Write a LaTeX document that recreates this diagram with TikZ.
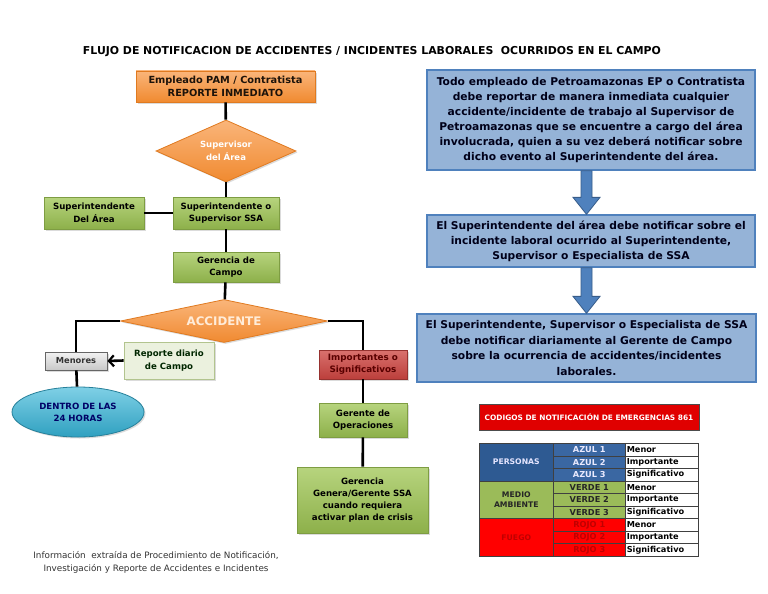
\documentclass[tikz,border=0pt]{standalone}
\usepackage{fontspec}
\setmainfont{DejaVu Sans}
\usetikzlibrary{shapes.geometric,arrows.meta,shadows,calc}
\definecolor{orL}{HTML}{FAB57A}
\definecolor{orD}{HTML}{F08A30}
\definecolor{orB}{HTML}{E07A20}
\definecolor{grL}{HTML}{B7D47E}
\definecolor{grD}{HTML}{8DB04A}
\definecolor{grB}{HTML}{7E9D42}
\definecolor{blF}{HTML}{95B3D7}
\definecolor{blB}{HTML}{4F81BD}
\definecolor{arF}{HTML}{4F81BD}
\definecolor{arB}{HTML}{385D8A}
\definecolor{rdL}{HTML}{D9716E}
\definecolor{rdD}{HTML}{BC3F3B}
\definecolor{cyL}{HTML}{7FD0E6}
\definecolor{cyD}{HTML}{2FA0C0}
\definecolor{gyL}{HTML}{F2F2F2}
\definecolor{gyD}{HTML}{C8C8C8}
\definecolor{lgF}{HTML}{EBF1DE}
\definecolor{tPer}{HTML}{2E5A92}
\definecolor{tPer2}{HTML}{3A67A2}
\definecolor{tMed}{HTML}{9BBB59}
\definecolor{tFue}{HTML}{FF0000}
\definecolor{tFueT}{HTML}{C00000}
\definecolor{tRed}{HTML}{E00000}
\begin{document}
\begin{tikzpicture}[x=1pt,y=-1pt,
  shad/.style={drop shadow={shadow xshift=1.5pt,shadow yshift=-1.5pt,opacity=0.28}},
  fbx/.style 2 args={font=\bfseries\fontsize{#1}{#2}\selectfont},
  box/.style={rectangle,align=center,inner sep=1pt,shad,line width=0.8pt},
  orbox/.style={box,top color=orL,bottom color=orD,draw=orB,text=black!85!brown},
  grbox/.style={box,top color=grL,bottom color=grD,draw=grB,text=black},
  dia/.style={diamond,inner sep=0pt,top color=orL,bottom color=orD,draw=orB,line width=0.8pt,shad,align=center,text=white},
  conn/.style={line width=2.6pt,black},
  bluebox/.style={rectangle,draw=blB,line width=1.3pt,fill=blF,align=center,text=black!90!blue,fbx={10.7}{15}},
  barrow/.style={fill=arF,draw=arB,line width=0.8pt},
  cell/.style={rectangle,anchor=north west,draw=black!75,line width=0.6pt,inner sep=0pt,fbx={8.2}{10},minimum height=12.56pt}
]
\useasboundingbox (0,0) rectangle (768,594);
\fill[white] (0,0) rectangle (768,594);

% title
\node[fbx={10.9}{13}] (title) at (372,52) {FLUJO DE NOTIFICACION DE ACCIDENTES / INCIDENTES LABORALES\ \ OCURRIDOS EN EL CAMPO};

% left flow
\node[orbox,fbx={9.8}{12.6},minimum width=179pt,minimum height=31pt] (emp) at (225.5,86.5) {Empleado PAM / Contratista\\REPORTE INMEDIATO};
\node[dia,fbx={8.5}{12.5},aspect=2.25,minimum width=140pt,minimum height=62pt] (sup) at (226,151) {Supervisor\\del Área};
\node[grbox,fbx={8.6}{12.5},minimum width=106pt,minimum height=32pt] (ssa) at (226,213) {Superintendente o\\Supervisor SSA};
\node[grbox,fbx={8.6}{12.5},minimum width=100pt,minimum height=32pt] (sda) at (94,213) {Superintendente\\Del Área};
\node[grbox,fbx={8.6}{12.5},minimum width=106pt,minimum height=30pt] (gc) at (226,267) {Gerencia de\\Campo};
\node[dia,fbx={11.8}{14},aspect=4.8,minimum width=207pt,minimum height=43pt,text=orange!15!white] (acc) at (224,321) {ACCIDENTE};
\node[box,fbx={8.3}{10},top color=gyL,bottom color=gyD,draw=black!60,text=black!80,minimum width=62pt,minimum height=18pt] (men) at (76,361) {Menores};
\node[box,fbx={8.6}{12.5},fill=lgF,draw=grB!60,text=black!85!green,minimum width=90pt,minimum height=37pt] (rep) at (169,360.5) {Reporte diario\\de Campo};
\node[ellipse,shad,fbx={8.6}{12},top color=cyL,bottom color=cyD,draw=cyD!80!black,line width=0.8pt,text=blue!40!black,align=center,inner sep=0pt,minimum width=132pt,minimum height=50pt] (ell) at (78,412) {DENTRO DE LAS\\24 HORAS};
\node[box,fbx={8.8}{12},top color=rdL,bottom color=rdD,draw=rdD!80!black,text=red!35!black,minimum width=88pt,minimum height=29pt] (imp) at (363,364.5) {Importantes o\\Significativos};
\node[grbox,fbx={8.6}{12.5},minimum width=88pt,minimum height=34pt] (gop) at (363,420) {Gerente de\\Operaciones};
\node[grbox,fbx={8.6}{12},minimum width=131pt,minimum height=66pt] (ggen) at (362.5,500) {Gerencia\\Genera/Gerente SSA\\cuando requiera\\activar plan de crisis};

% connectors
\draw[conn] (emp) -- (sup);
\draw[conn] (sup) -- (ssa);
\draw[conn] (ssa) -- (sda);
\draw[conn] (ssa) -- (gc);
\draw[conn] (gc) -- (acc);
\draw[conn] (acc.west) -| (men.north);
\draw[conn] (men) -- (ell);
\draw[conn] (acc.east) -| (imp.north);
\draw[conn] (imp) -- (gop);
\draw[conn] (gop) -- (ggen);
\draw[conn,-{Straight Barb[length=5pt,width=11pt,line width=2.2pt]}] (rep.west) -- (men.east);

% right side blue boxes
\node[bluebox,minimum width=328pt,minimum height=100pt] (b1) at (591,120) {Todo empleado de Petroamazonas EP o Contratista\\debe reportar de manera inmediata cualquier\\accidente/incidente de trabajo al Supervisor de\\Petroamazonas que se encuentre a cargo del área\\involucrada, quien a su vez deberá notificar sobre\\dicho evento al Superintendente del área.};
\node[bluebox,minimum width=328pt,minimum height=52pt] (b2) at (591,241) {El Superintendente del área debe notificar sobre el\\incidente laboral ocurrido al Superintendente,\\Supervisor o Especialista de SSA};
\node[bluebox,fbx={10.7}{15.5},minimum width=339pt,minimum height=68pt] (b3) at (586.5,348) {El Superintendente, Supervisor o Especialista de SSA\\debe notificar diariamente al Gerente de Campo\\sobre la ocurrencia de accidentes/incidentes\\laborales.};
\coordinate (a1s) at (b1.south -| b3.north);
\coordinate (a1e) at (b2.north -| b3.north);
\coordinate (a2s) at (b2.south -| b3.north);
\coordinate (a2e) at (b3.north);
\draw[barrow] ($(a1s)+(-5.5,0)$) -- ($(a1e)+(-5.5,-17)$) -- ($(a1e)+(-13.5,-17)$) -- (a1e) -- ($(a1e)+(13.5,-17)$) -- ($(a1e)+(5.5,-17)$) -- ($(a1s)+(5.5,0)$) -- cycle;
\draw[barrow] ($(a2s)+(-5.5,0)$) -- ($(a2e)+(-5.5,-17)$) -- ($(a2e)+(-13.5,-17)$) -- (a2e) -- ($(a2e)+(13.5,-17)$) -- ($(a2e)+(5.5,-17)$) -- ($(a2s)+(5.5,0)$) -- cycle;

% table
\node[rectangle,fill=tRed,draw=black!70,line width=0.6pt,text=white,fbx={7.4}{9},minimum width=220pt,minimum height=26pt,inner sep=0pt] (tt) at (589,417) {CODIGOS DE NOTIFICACIÓN DE EMERGENCIAS 861};
\node[cell,fbx={7.7}{10},fill=tPer,text=blue!10!white,minimum width=74pt,minimum height=37.68pt] (g1) at (479,443) {PERSONAS};
\node[cell,fbx={7.7}{10},fill=tMed,text=black!85,minimum width=74pt,minimum height=37.68pt,align=center] (g2) at (479,480.68) {MEDIO\\AMBIENTE};
\node[cell,fbx={7.7}{10},fill=tFue,text=tFueT,minimum width=74pt,minimum height=37.68pt] (g3) at (479,518.36) {FUEGO};
\foreach \k/\t in {0/AZUL 1,1/AZUL 2,2/AZUL 3}
  \node[cell,fill=tPer2,text=blue!8!white,minimum width=72pt] (p\k) at (553,{443+\k*12.56}) {\t};
\foreach \k/\t in {3/VERDE 1,4/VERDE 2,5/VERDE 3}
  \node[cell,fill=tMed,text=black!85,minimum width=72pt] (p\k) at (553,{443+\k*12.56}) {\t};
\foreach \k/\t in {6/ROJO 1,7/ROJO 2,8/ROJO 3}
  \node[cell,fill=tFue,text=tFueT,minimum width=72pt] (p\k) at (553,{443+\k*12.56}) {\t};
\foreach \k/\t in {0/Menor,1/Importante,2/Significativo,3/Menor,4/Importante,5/Significativo,6/Menor,7/Importante,8/Significativo}
  \node[cell,fill=white,text=black,minimum width=73pt,text width=70pt,align=left,inner xsep=1.5pt] (q\k) at (625,{443+\k*12.56}) {\t};

% footer
\node[font=\fontsize{8.8}{13}\selectfont,text=black!80,align=center] (foot) at (156,562.5) {Información\ \ extraída de Procedimiento de Notificación,\\Investigación y Reporte de Accidentes e Incidentes};
\end{tikzpicture}
\end{document}
